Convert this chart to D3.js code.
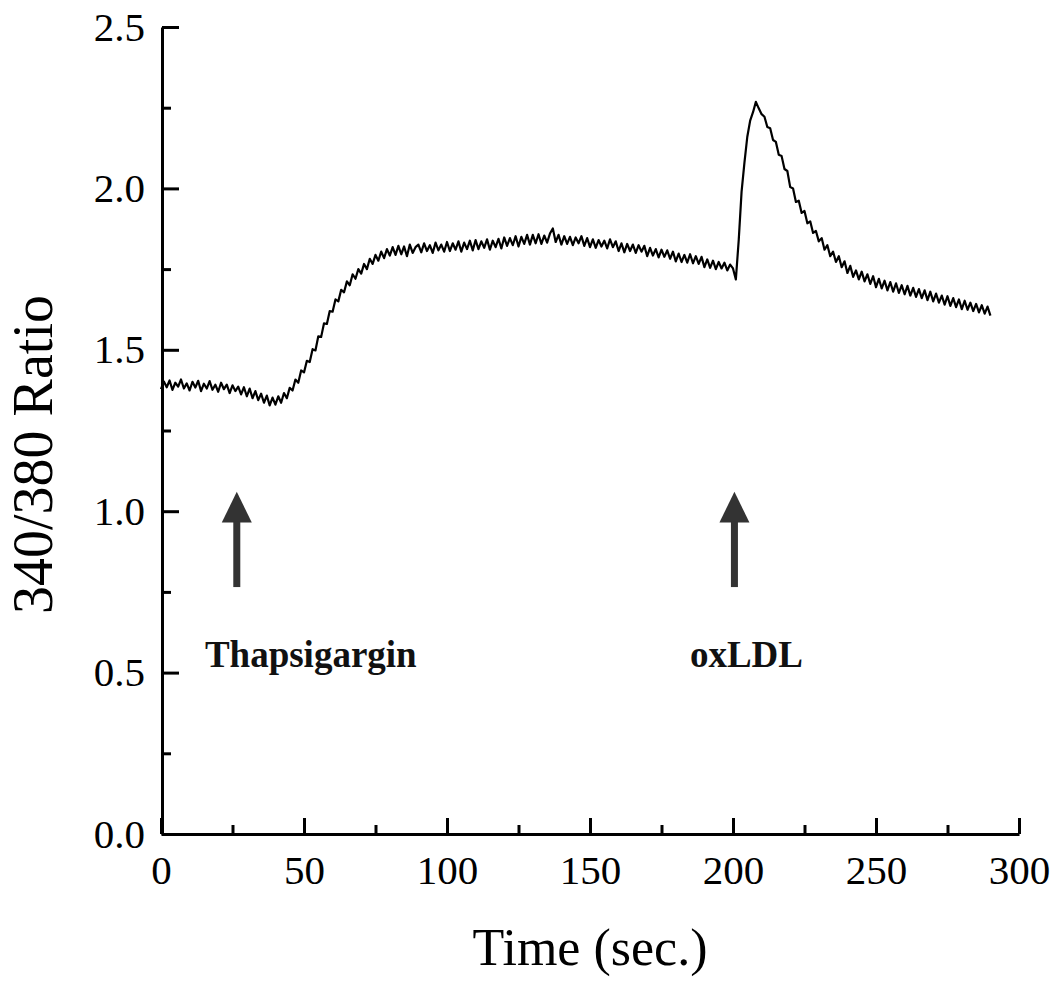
<!DOCTYPE html>
<html>
<head>
<meta charset="utf-8">
<script src="https://cdn.jsdelivr.net/npm/d3@7"></script>
<style>
  html, body { margin: 0; padding: 0; background: #fff; }
  svg { display: block; }
</style>
</head>
<body>
<svg id="chart" width="1055" height="981"></svg>
<script>
// ---- data ----
const startTime = 0;   // sec
const timeStep = 1;    // sec between samples
const ratio = [
  // 0-9
  1.378,1.402,1.384,1.405,1.376,1.398,1.386,1.408,1.380,1.396,
  // 10-19
  1.374,1.401,1.383,1.404,1.372,1.395,1.380,1.403,1.376,1.392,
  // 20-29
  1.370,1.398,1.378,1.392,1.366,1.390,1.372,1.386,1.362,1.384,
  // 30-39
  1.356,1.380,1.350,1.372,1.344,1.364,1.336,1.358,1.328,1.352,
  // 40-49
  1.330,1.356,1.336,1.366,1.350,1.382,1.374,1.408,1.398,1.436,
  // 50-59
  1.430,1.466,1.462,1.502,1.498,1.542,1.540,1.582,1.580,1.620,
  // 60-69
  1.618,1.656,1.650,1.686,1.678,1.712,1.700,1.734,1.720,1.750,
  // 70-79
  1.736,1.766,1.750,1.782,1.766,1.794,1.776,1.804,1.784,1.812,
  // 80-89
  1.792,1.818,1.794,1.822,1.796,1.820,1.790,1.826,1.800,1.818,
  // 90-99
  1.826,1.802,1.830,1.806,1.824,1.800,1.832,1.808,1.826,1.804,
  // 100-109
  1.834,1.806,1.830,1.810,1.836,1.804,1.832,1.812,1.838,1.808,
  // 110-119
  1.840,1.812,1.836,1.816,1.842,1.810,1.838,1.818,1.844,1.814,
  // 120-129
  1.848,1.822,1.846,1.824,1.852,1.820,1.850,1.828,1.856,1.826,
  // 130-139
  1.856,1.830,1.858,1.828,1.854,1.832,1.860,1.876,1.834,1.856,
  // 140-149
  1.826,1.852,1.828,1.850,1.824,1.848,1.830,1.852,1.822,1.846,
  // 150-159
  1.818,1.842,1.816,1.840,1.820,1.838,1.814,1.842,1.818,1.836,
  // 160-169
  1.806,1.830,1.802,1.828,1.806,1.826,1.800,1.824,1.804,1.822,
  // 170-179
  1.790,1.816,1.792,1.812,1.786,1.810,1.788,1.808,1.782,1.804,
  // 180-189
  1.774,1.798,1.772,1.794,1.770,1.796,1.768,1.790,1.766,1.788,
  // 190-199
  1.756,1.780,1.754,1.776,1.750,1.772,1.752,1.770,1.746,1.764,
  // 200-209
  1.752,1.718,1.840,1.990,2.080,2.160,2.210,2.236,2.268,2.248,
  // 210-219
  2.230,2.222,2.190,2.186,2.150,2.144,2.104,2.100,2.060,2.054,
  // 220-229
  2.004,2.000,1.958,1.962,1.924,1.930,1.892,1.898,1.862,1.868,
  // 230-239
  1.836,1.846,1.810,1.824,1.790,1.804,1.772,1.790,1.756,1.774,
  // 240-249
  1.738,1.760,1.726,1.746,1.718,1.742,1.712,1.734,1.704,1.728,
  // 250-259
  1.694,1.720,1.690,1.714,1.684,1.710,1.680,1.706,1.676,1.700,
  // 260-269
  1.672,1.698,1.668,1.692,1.664,1.688,1.660,1.684,1.654,1.680,
  // 270-279
  1.650,1.674,1.646,1.668,1.640,1.666,1.636,1.660,1.632,1.656,
  // 280-289
  1.626,1.652,1.624,1.646,1.620,1.642,1.616,1.638,1.612,1.634,
  // 290
  1.606
];
const xMajorTicks = [0, 50, 100, 150, 200, 250, 300];
const xMinorTicks = [25, 75, 125, 175, 225, 275];
const yMajorTicks = [0.0, 0.5, 1.0, 1.5, 2.0, 2.5];
const yMinorTicks = [0.25, 0.75, 1.25, 1.75, 2.25];
const xLabel = "Time (sec.)";
const yLabel = "340/380 Ratio";
const eventTimes = [26.5, 200.5];
const eventLabels = ["Thapsigargin", "oxLDL"];

// ---- drawing ----
const svg = d3.select("#chart");
const serif = "'Liberation Serif', 'Times New Roman', Times, serif";

const x = d3.scaleLinear().domain([0, 300]).range([161, 1019]);
const y = d3.scaleLinear().domain([0, 2.5]).range([834, 27]);

const points = ratio.map((v, i) => ({ t: startTime + i * timeStep, v }));

// X axis (ticks point inward / up)
const gx = svg.append("g").attr("transform", `translate(0,${y(0)})`)
  .call(d3.axisBottom(x).tickValues(xMajorTicks).tickFormat(d3.format("d"))
    .tickSizeInner(-16).tickSizeOuter(0).tickPadding(21));
gx.append("g").call(d3.axisBottom(x).tickValues(xMinorTicks).tickFormat("")
    .tickSizeInner(-9).tickSizeOuter(0))
  .select(".domain").remove();

// Y axis (ticks point inward / right)
const gy = svg.append("g").attr("transform", `translate(${x(0) + 1},0)`)
  .call(d3.axisLeft(y).tickValues(yMajorTicks).tickFormat(d3.format(".1f"))
    .tickSizeInner(-17).tickSizeOuter(0).tickPadding(17));
gy.append("g").call(d3.axisLeft(y).tickValues(yMinorTicks).tickFormat("")
    .tickSizeInner(-9).tickSizeOuter(0))
  .select(".domain").remove();

svg.selectAll(".domain, .tick line")
  .attr("stroke", "#000").attr("stroke-width", 3);
svg.selectAll(".tick text")
  .attr("font-family", serif).attr("font-size", 41).attr("fill", "#000");

// Axis titles
svg.append("text")
  .attr("x", (x(0) + x(300)) / 2).attr("y", 965)
  .attr("text-anchor", "middle")
  .attr("font-family", serif).attr("font-size", 52).attr("fill", "#000")
  .text(xLabel);

svg.append("text")
  .attr("transform", `translate(52,${(y(0) + y(2.5)) / 2 + 24}) rotate(-90)`)
  .attr("text-anchor", "middle")
  .attr("font-family", serif).attr("font-size", 56).attr("fill", "#000")
  .text(yLabel);

// Trace
const line = d3.line().x(d => x(d.t)).y(d => y(d.v));
svg.append("path").datum(points)
  .attr("d", line)
  .attr("fill", "none")
  .attr("stroke", "#000")
  .attr("stroke-width", 2.2)
  .attr("stroke-linejoin", "round");

// Event arrows and labels
const arrowTip = 1.06, arrowHeadBase = 0.965, arrowTail = 0.765;
const labelOffsets = [74, 12];
eventTimes.forEach((t, i) => {
  const cx = x(t);
  const g = svg.append("g").attr("fill", "#333");
  g.append("path")
    .attr("d", `M${cx},${y(arrowTip)} L${cx - 15},${y(arrowHeadBase)} L${cx + 15},${y(arrowHeadBase)} Z`);
  g.append("rect")
    .attr("x", cx - 3.5).attr("y", y(arrowHeadBase) - 1)
    .attr("width", 7).attr("height", y(arrowTail) - y(arrowHeadBase) + 1);
  svg.append("text")
    .attr("x", cx + labelOffsets[i]).attr("y", 667)
    .attr("text-anchor", "middle")
    .attr("font-family", serif).attr("font-weight", "bold")
    .attr("font-size", 37).attr("fill", "#111")
    .text(eventLabels[i]);
});
</script>
</body>
</html>
